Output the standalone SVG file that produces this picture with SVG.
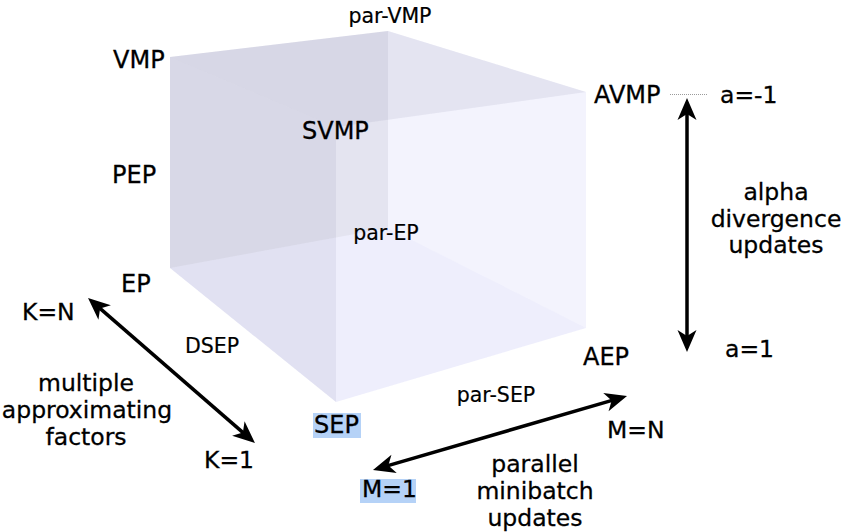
<svg xmlns="http://www.w3.org/2000/svg" width="843" height="532" viewBox="0 0 843 532">
  <style>
    text { font-family: "DejaVu Sans", "Liberation Sans", sans-serif; fill: #000; stroke: #000; stroke-width: 0.3; }
    .big { font-size: 24px; }
    .mid { font-size: 23.5px; }
    .small { font-size: 20.5px; stroke-width: 0.2; }
    .face-dark { fill: #7070a8; stroke: none; }
    .face-light { fill: #8888e8; stroke: none; }
    .hl { fill: #b5d2f7; }
    .arrow { stroke: #000; stroke-width: 3.5; fill: none; marker-start: url(#head); marker-end: url(#head); }
  </style>
  <defs>
    <marker id="head" markerUnits="userSpaceOnUse" markerWidth="30" markerHeight="24" viewBox="-12 -12 26 24" refX="0" refY="0" orient="auto-start-reverse">
      <path d="M12,0 L-10,-9.5 L-4,0 L-10,9.5 Z" fill="#000"/>
    </marker>
  </defs>

  <rect width="843" height="532" fill="#fff"/>

  <!-- translucent cube: six faces -->
  <g id="cube">
    <polygon id="face-left-back" class="face-dark" fill-opacity="0.157" points="170,57 388,31 388,228 170,268"/>
    <polygon id="face-top" class="face-dark" fill-opacity="0.15" points="170,57 388,31 586,92 336,127"/>
    <polygon id="face-right-back" class="face-light" fill-opacity="0.06" points="388,31 586,92 586,328 388,228"/>
    <polygon id="face-right-front" class="face-light" fill-opacity="0.045" points="336,127 586,92 586,328 336,402"/>
    <polygon id="face-bottom" class="face-light" fill-opacity="0.1" points="170,268 388,228 586,328 336,402"/>
    <polygon id="face-left-front" class="face-dark" fill-opacity="0.13" points="170,57 336,127 336,402 170,268"/>
  </g>

  <!-- cube corner labels -->
  <g id="node-vmp"><text class="big" x="113" y="68">VMP</text></g>
  <g id="node-par-vmp"><text class="small" x="390" y="23" text-anchor="middle">par-VMP</text></g>
  <g id="node-avmp"><text class="big" x="594" y="103">AVMP</text></g>
  <g id="node-svmp"><text class="big" x="302" y="139">SVMP</text></g>
  <g id="node-pep"><text class="big" x="112" y="183">PEP</text></g>
  <g id="node-par-ep"><text class="small" x="386" y="240" text-anchor="middle">par-EP</text></g>
  <g id="node-ep"><text class="big" x="121" y="292">EP</text></g>
  <g id="node-dsep"><text class="small" x="212" y="353" text-anchor="middle">DSEP</text></g>
  <g id="node-aep"><text class="big" x="583" y="365">AEP</text></g>
  <g id="node-par-sep"><text class="small" x="496" y="402" text-anchor="middle">par-SEP</text></g>
  <g id="node-sep">
    <rect class="hl" x="313" y="413" width="48" height="25"/>
    <text class="big" x="314" y="433">SEP</text>
  </g>

  <!-- axis end labels -->
  <g id="label-a-minus1"><text class="mid" x="720" y="103">a=-1</text></g>
  <g id="label-a-1"><text class="mid" x="725" y="357">a=1</text></g>
  <g id="label-k-n"><text class="mid" x="22" y="320">K=N</text></g>
  <g id="label-k-1"><text class="mid" x="204" y="468">K=1</text></g>
  <g id="label-m-n"><text class="mid" x="607" y="438">M=N</text></g>
  <g id="label-m-1">
    <rect class="hl" x="360" y="479" width="56" height="24"/>
    <text class="mid" x="362" y="497">M=1</text>
  </g>

  <!-- axis descriptions -->
  <g id="label-alpha">
    <text class="mid" x="776" y="200" text-anchor="middle">alpha</text>
    <text class="mid" x="776" y="227" text-anchor="middle">divergence</text>
    <text class="mid" x="776" y="253" text-anchor="middle">updates</text>
  </g>
  <g id="label-factors">
    <text class="mid" x="86" y="391" text-anchor="middle">multiple</text>
    <text class="mid" x="87" y="418" text-anchor="middle">approximating</text>
    <text class="mid" x="86" y="445" text-anchor="middle">factors</text>
  </g>
  <g id="label-minibatch">
    <text class="mid" x="535" y="472" text-anchor="middle">parallel</text>
    <text class="mid" x="535" y="499" text-anchor="middle">minibatch</text>
    <text class="mid" x="535" y="526" text-anchor="middle">updates</text>
  </g>

  <!-- connectors -->
  <g id="connectors">
    <line x1="670" y1="94.5" x2="707" y2="94.5" stroke="#9a9a9a" stroke-width="1" stroke-dasharray="1,1"/>
    <line class="arrow" x1="687" y1="110" x2="687" y2="340"/>
    <line class="arrow" x1="97.1" y1="305.9" x2="245.9" y2="435.1"/>
    <line class="arrow" x1="384.5" y1="466.6" x2="615.5" y2="399.4"/>
  </g>
</svg>
